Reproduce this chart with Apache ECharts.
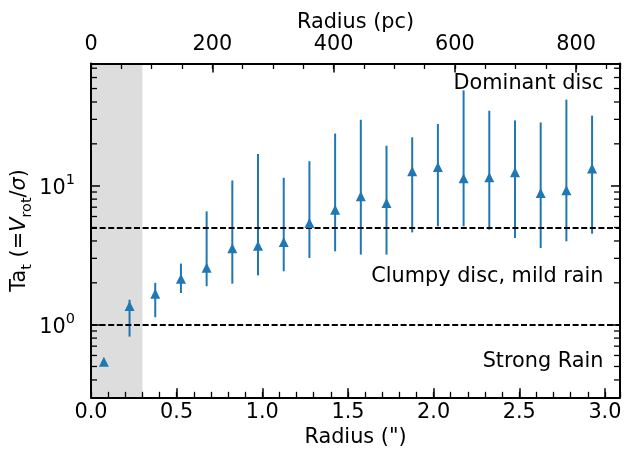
<!DOCTYPE html>
<html>
<head>
<meta charset="utf-8">
<script src="https://cdn.jsdelivr.net/npm/echarts@6/dist/echarts.min.js"></script>
<style>
html,body{margin:0;padding:0;background:#ffffff;}
#chart{width:633px;height:457px;}
</style>
</head>
<body>
<div id="chart"></div>
<script>
// ---- data ----
const radiusArcsec = [0.075, 0.225, 0.375, 0.525, 0.675, 0.825, 0.975, 1.125, 1.275, 1.425,
                      1.575, 1.725, 1.875, 2.025, 2.175, 2.325, 2.475, 2.625, 2.775, 2.925];
const taValue = [0.54, 1.36, 1.67, 2.14, 2.57, 3.54, 3.70, 3.94, 5.39, 6.72,
                 8.38, 7.50, 12.7, 13.6, 11.3, 11.5, 12.5, 8.86, 9.25, 13.3];
const taLow   = [0.54, 0.82, 1.13, 1.69, 1.89, 1.97, 2.26, 2.42, 3.02, 3.37,
                 3.19, 3.19, 4.61, 5.10, 5.10, 4.83, 4.20, 3.56, 3.98, 4.51];
const taHigh  = [0.54, 1.51, 2.00, 2.75, 6.53, 10.9, 16.9, 11.4, 15.0, 23.7,
                 29.8, 19.4, 22.3, 27.8, 48.5, 34.6, 29.5, 28.5, 41.6, 31.9];
const thresholdValues = [1, 5];
const shadedRange = [0, 0.3];
const regimeLabels = ['Dominant disc', 'Clumpy disc, mild rain', 'Strong Rain'];
const yMinorTickValues = [0.4, 0.5, 0.6, 0.7, 0.8, 0.9, 2, 3, 4, 5, 6, 7, 8, 9, 20, 30, 40, 50, 60, 70];
const pcPerArcsec = 282.5;
const xRange = [0, 3.088];
const yRange = [0.3, 75.7];
const bottomMajorStep = 0.5, bottomMinorStep = 0.1;
const topMajorStep = 200, topMinorStep = 50;

// ---- styling ----
const FONT = 'DejaVu Sans';
const FS = 20.8;
const BLUE = '#1f77b4';
const BLACK = '#000000';

function isMultiple(v, step) {
  const r = v / step;
  return Math.abs(r - Math.round(r)) < 1e-6;
}

function majorTick() {
  return {show: true, inside: true, length: 9, lineStyle: {color: BLACK, width: 1.5}};
}
function minorTickAxis() {
  return {show: true, inside: true, length: 5.5, lineStyle: {color: BLACK, width: 1.3}};
}
const axisLine = {show: true, onZero: false, lineStyle: {color: BLACK, width: 2}};
const nameStyle = {color: BLACK, fontFamily: FONT, fontSize: FS};

const errData = radiusArcsec.map((x, i) => [x, taLow[i], taHigh[i]]);
const ptData = radiusArcsec.map((x, i) => [x, taValue[i]]);

const chart = echarts.init(document.getElementById('chart'), null, {renderer: 'canvas'});

const option = {
  animation: false,
  backgroundColor: '#ffffff',
  grid: {left: 91, right: 13, top: 63.5, bottom: 59.7, containLabel: false, outerBoundsMode: 'none'},
  xAxis: [
    {
      type: 'value', position: 'bottom', min: xRange[0], max: xRange[1], interval: bottomMajorStep,
      axisLine: axisLine, axisTick: majorTick(), splitLine: {show: false},
      axisLabel: {show: true, margin: 4.5, color: BLACK, fontFamily: FONT, fontSize: FS,
        showMaxLabel: false,
        formatter: v => isMultiple(v, bottomMajorStep) ? v.toFixed(1) : ''},
      name: 'Radius (")', nameLocation: 'middle', nameGap: 30, nameMoveOverlap: false,
      nameTextStyle: nameStyle, z: 10
    },
    {
      type: 'value', position: 'bottom', min: xRange[0], max: xRange[1], interval: bottomMinorStep,
      axisLine: {show: false}, axisTick: minorTickAxis(), axisLabel: {show: false}, splitLine: {show: false}, z: 10
    },
    {
      type: 'value', position: 'top', min: xRange[0] * pcPerArcsec, max: xRange[1] * pcPerArcsec, interval: topMajorStep,
      axisLine: axisLine, axisTick: majorTick(), splitLine: {show: false},
      axisLabel: {show: true, margin: 8, color: BLACK, fontFamily: FONT, fontSize: FS,
        showMaxLabel: false,
        formatter: v => isMultiple(v, topMajorStep) ? String(Math.round(v)) : ''},
      name: 'Radius (pc)', nameLocation: 'middle', nameGap: 30, nameMoveOverlap: false,
      nameTextStyle: nameStyle, z: 10
    },
    {
      type: 'value', position: 'top', min: xRange[0] * pcPerArcsec, max: xRange[1] * pcPerArcsec, interval: topMinorStep,
      axisLine: {show: false}, axisTick: minorTickAxis(), axisLabel: {show: false}, splitLine: {show: false}, z: 10
    }
  ],
  yAxis: [
    {
      type: 'log', logBase: 10, position: 'left', min: yRange[0], max: yRange[1],
      axisLine: axisLine, axisTick: majorTick(), splitLine: {show: false},
      axisLabel: {show: true, margin: 16, color: BLACK, fontFamily: FONT, fontSize: FS,
        showMinLabel: false, showMaxLabel: false,
        formatter: v => {
          const e = Math.log10(v);
          if (Math.abs(e - Math.round(e)) > 1e-6) return '';
          return '{b|10}{p|' + Math.round(e) + '}';
        },
        rich: {
          b: {fontFamily: FONT, fontSize: FS, lineHeight: 26, verticalAlign: 'bottom', color: BLACK},
          p: {fontFamily: FONT, fontSize: 14.5, verticalAlign: 'top', color: BLACK}
        }
      },
      name: '{n|Ta}{s|t}{n| (=}{i|V}{s|rot}{n|/}{i|σ}{n|)}',
      nameLocation: 'middle', nameRotate: 90, nameGap: 56, nameMoveOverlap: false,
      nameTextStyle: {
        color: BLACK, fontFamily: FONT, fontSize: FS,
        rich: {
          n: {fontFamily: FONT, fontSize: FS, lineHeight: 26, verticalAlign: 'top', color: BLACK},
          i: {fontFamily: FONT, fontSize: FS, fontStyle: 'italic', lineHeight: 26, verticalAlign: 'top', color: BLACK},
          s: {fontFamily: FONT, fontSize: 14.5, verticalAlign: 'bottom', color: BLACK}
        }
      },
      z: 10
    },
    {
      type: 'log', logBase: 10, position: 'right', min: yRange[0], max: yRange[1],
      axisLine: axisLine, axisTick: majorTick(), axisLabel: {show: false}, splitLine: {show: false}, z: 10
    }
  ],
  graphic: [
    {type: 'text', x: 603.5, y: 83.5, z: 20, style: {text: regimeLabels[0], fill: BLACK, font: FS + 'px "DejaVu Sans"', align: 'right', verticalAlign: 'middle'}},
    {type: 'text', x: 603.5, y: 277, z: 20, style: {text: regimeLabels[1], fill: BLACK, font: FS + 'px "DejaVu Sans"', align: 'right', verticalAlign: 'middle'}},
    {type: 'text', x: 603.5, y: 362, z: 20, style: {text: regimeLabels[2], fill: BLACK, font: FS + 'px "DejaVu Sans"', align: 'right', verticalAlign: 'middle'}}
  ],
  series: [
    {
      name: 'shade', type: 'line', xAxisIndex: 0, yAxisIndex: 0, data: [], z: 1, silent: true,
      markArea: {silent: true, itemStyle: {color: '#dddddd'},
        data: [[{xAxis: shadedRange[0]}, {xAxis: shadedRange[1]}]]}
    },
    {
      name: 'thresholds', type: 'line', xAxisIndex: 0, yAxisIndex: 0, data: [], z: 3, silent: true,
      markLine: {silent: true, symbol: ['none', 'none'], label: {show: false},
        lineStyle: {color: BLACK, width: 1.8, type: [6, 2.6]},
        data: thresholdValues.map(v => ({yAxis: v}))}
    },
    {
      name: 'errors', type: 'custom', xAxisIndex: 0, yAxisIndex: 0, z: 4, silent: true,
      data: errData,
      encode: {x: 0, y: [1, 2]},
      renderItem: (params, api) => {
        const x = api.value(0);
        const p1 = api.coord([x, api.value(1)]);
        const p2 = api.coord([x, api.value(2)]);
        return {type: 'line', shape: {x1: p1[0], y1: p1[1], x2: p2[0], y2: p2[1]},
          style: {stroke: BLUE, lineWidth: 2}};
      }
    },
    {
      name: 'Ta', type: 'scatter', xAxisIndex: 0, yAxisIndex: 0, z: 5, silent: true,
      symbol: 'triangle', symbolSize: [10, 10],
      itemStyle: {color: BLUE, opacity: 1},
      data: ptData
    },
    {
      name: 'yMinorTicks', type: 'custom', xAxisIndex: 0, yAxisIndex: 0, z: 10, silent: true,
      data: yMinorTickValues.map(v => [xRange[0], v]),
      encode: {x: 0, y: 1},
      renderItem: (params, api) => {
        const v = api.value(1);
        const pl = api.coord([xRange[0], v]);
        const pr = api.coord([xRange[1], v]);
        return {type: 'group', children: [
          {type: 'line', shape: {x1: pl[0], y1: pl[1], x2: pl[0] + 6, y2: pl[1]}, style: {stroke: BLACK, lineWidth: 1.3}},
          {type: 'line', shape: {x1: pr[0] - 6, y1: pr[1], x2: pr[0], y2: pr[1]}, style: {stroke: BLACK, lineWidth: 1.3}}
        ]};
      }
    }
  ]
};
chart.setOption(option);
</script>
</body>
</html>
